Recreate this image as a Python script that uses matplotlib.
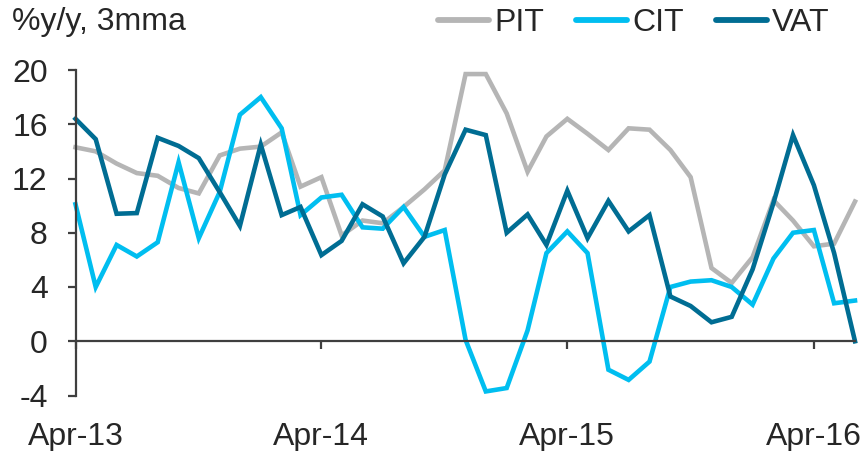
import matplotlib
matplotlib.use("Agg")
import matplotlib.pyplot as plt
import matplotlib.dates as mdates
import pandas as pd

months = pd.date_range("2013-04-01", periods=39, freq="MS")

pit = [14.3, 14.0, 13.1, 12.4, 12.2, 11.3, 10.9, 13.7, 14.2, 14.35, 15.4, 11.4,
       12.1, 7.8, 8.9, 8.7, 9.9, 11.2, 12.6, 19.7, 19.7, 16.8, 12.5, 15.1,
       16.4, 15.3, 14.1, 15.7, 15.6, 14.1, 12.1, 5.4, 4.3, 6.2, 10.4, 8.9,
       7.0, 7.2, 10.3]

cit = [10.1, 4.0, 7.1, 6.25, 7.3, 13.2, 7.6, 11.0, 16.7, 18.0, 15.7, 9.3,
       10.6, 10.8, 8.4, 8.3, 9.9, 7.7, 8.2, 0.1, -3.7, -3.45, 0.8, 6.5,
       8.1, 6.5, -2.1, -2.85, -1.5, 4.0, 4.4, 4.5, 4.0, 2.7, 6.1, 8.0,
       8.2, 2.8, 3.0]

vat = [16.4, 14.9, 9.4, 9.45, 15.0, 14.4, 13.5, 11.0, 8.5, 14.5, 9.3, 9.9,
       6.35, 7.4, 10.1, 9.2, 5.75, 7.7, 12.3, 15.6, 15.2, 8.0, 9.35, 7.1,
       11.1, 7.6, 10.35, 8.1, 9.3, 3.3, 2.6, 1.4, 1.8, 5.3, 10.2, 15.2,
       11.5, 6.5, 0.0]

series_names = ["PIT", "CIT", "VAT"]
series_colors = ["#B5B5B5", "#00BEF0", "#006D93"]
y_ticks = [-4, 0, 4, 8, 12, 16, 20]

plt.rcParams["font.family"] = ["Liberation Sans", "DejaVu Sans"]
plt.rcParams["axes.unicode_minus"] = False
axis_color = "#3F3F3F"
text_color = "#262626"

fig = plt.figure(figsize=(8.65, 4.51), dpi=100)
ax = fig.add_axes([75.5 / 865, 55.5 / 451, (855 - 75.5) / 865, (395.5 - 70) / 451])

for name, vals, col in zip(series_names, [pit, cit, vat], series_colors):
    ax.plot(months, vals, color=col, lw=3.3, label=name, clip_on=False,
            solid_joinstyle="miter")

ax.set_xlim(months[0], months[-1])
ax.set_ylim(-4, 20)
ax.set_yticks(y_ticks)

april_ticks = [d for d in months if d.month == 4]
ax.set_xticks(april_ticks)
ax.xaxis.set_major_formatter(mdates.DateFormatter("%b-%y"))

for side in ["top", "right"]:
    ax.spines[side].set_visible(False)
ax.spines["bottom"].set_position(("data", 0))
for side in ["left", "bottom"]:
    ax.spines[side].set_color(axis_color)
    ax.spines[side].set_linewidth(1.6)

ax.tick_params(axis="y", direction="out", length=6, width=1.6, color=axis_color,
               labelsize=23, labelcolor=text_color, pad=14)
ax.tick_params(axis="x", direction="out", length=6, width=1.6, color=axis_color,
               labelsize=23, labelcolor=text_color, pad=52)

fig.text(12 / 865, 1 - 22 / 451, "%y/y, 3mma", fontsize=23, color=text_color,
         ha="left", va="center")

leg = fig.legend(loc="center right", bbox_to_anchor=(845 / 865, 1 - 23 / 451),
                 ncol=3, frameon=False, fontsize=23, handlelength=1.6,
                 handletextpad=0.15, columnspacing=1.0, borderpad=0,
                 labelcolor=text_color)
for line in leg.get_lines():
    line.set_linewidth(4.2)
    line.set_solid_capstyle("round")

fig.savefig("out.png", dpi=100)
